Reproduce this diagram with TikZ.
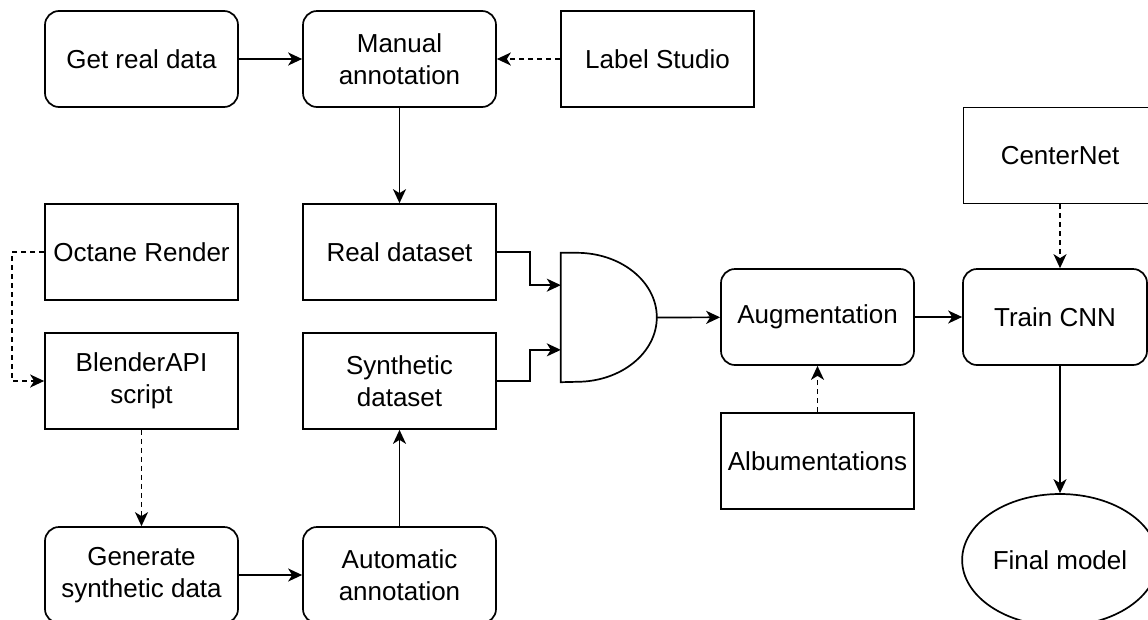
\documentclass[tikz,border=0pt]{standalone}
\usepackage{fontspec}
\setmainfont{Liberation Sans}
\usetikzlibrary{arrows.meta,calc,shapes.geometric}

\tikzset{
  base/.style={draw, line width=1.7pt, minimum width=193pt, minimum height=96pt,
    inner sep=2pt, align=center, font=\fontsize{26}{32}\selectfont},
  sqbox/.style={base},
  rbox/.style={base, rounded corners=14pt},
  oval/.style={base, ellipse, minimum width=194pt, minimum height=132pt},
  link/.style={line width=1.7pt, -{Stealth[length=14pt, width=13pt, inset=4pt]}},
  hint/.style={link, dash pattern=on 5pt off 4pt},
}

\begin{document}
\begin{tikzpicture}[x=1pt, y=-1pt]
\useasboundingbox (0,0) rectangle (1148,619);
\clip (0,0) rectangle (1148,619);

% real-data branch
\node[rbox]  (grd) at (141.5,59)  {Get real data};
\node[rbox]  (man) at (399.5,59)  {Manual\\annotation};
\node[sqbox] (ls)  at (657.5,59)  {Label Studio};
\node[sqbox] (rd)  at (399.5,252) {Real dataset};

% synthetic-data branch
\node[sqbox] (oct) at (141.5,252) {Octane Render};
\node[sqbox] (bl)  at (141.5,381) {BlenderAPI\\script};
\node[sqbox] (sd)  at (399.5,381) {Synthetic\\dataset};
\node[rbox]  (gs)  at (141.5,575) {Generate\\synthetic data};
\node[rbox]  (aa)  at (399.5,575) {Automatic\\annotation};

% merge gate
\node[inner sep=0pt, minimum width=96pt, minimum height=129pt] (gate) at (609,317.5) {};
\draw[line width=1.7pt] (gate.north west) -- ++(16,0)
  arc[start angle=90, end angle=-90, x radius=80pt, y radius=64.5pt]
  -- (gate.south west) -- cycle;
\coordinate (gin1) at ($(gate.north west)!0.25!(gate.south west)$);
\coordinate (gin2) at ($(gate.north west)!0.75!(gate.south west)$);
\coordinate (gout) at (gate.east);

% training
\node[rbox]  (aug) at (817.5,317) {Augmentation};
\node[sqbox] (alb) at (817.5,461) {Albumentations};
\node[sqbox] (cn)  at (1060,155.5) {CenterNet};
\node[rbox, minimum width=184pt] (tc) at (1055,317) {Train CNN};
\node[oval]  (fm)  at (1060,560) {Final model};

% connectors
\draw[link] (grd) -- (man);
\draw[hint] (ls) -- (man);
\draw[link] (man) -- (rd);
\draw[hint] (oct.west) -- ++(-32,0) |- (bl.west);
\draw[hint] (bl) -- (gs);
\draw[link] (gs) -- (aa);
\draw[link] (aa) -- (sd);
\draw[link] (rd.east) -- ++(33,0) |- (gin1);
\draw[link] (sd.east) -- ++(33,0) |- (gin2);
\draw[link] (gout) -- (aug);
\draw[hint] (alb) -- (aug);
\draw[link] (aug) -- (tc);
\draw[hint] (cn.south) -- (cn.south |- tc.north);
\draw[link] (fm.north |- tc.south) -- (fm.north);
\end{tikzpicture}
\end{document}
